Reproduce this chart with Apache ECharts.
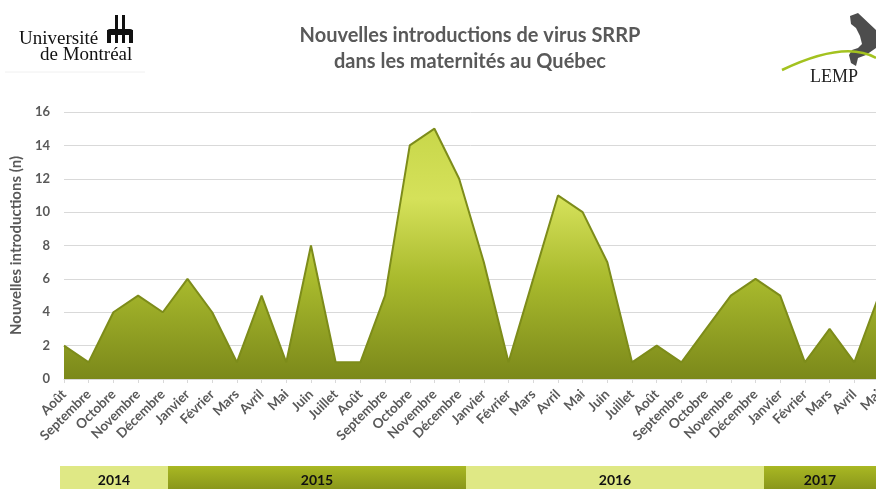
<!DOCTYPE html>
<html>
<head>
<meta charset="utf-8">
<script src="https://cdn.jsdelivr.net/npm/echarts@6/dist/echarts.min.js"></script>
<style>
  html, body { margin: 0; padding: 0; background: #fff; }
  #chart { width: 876px; height: 489px; }
</style>
</head>
<body>
<div id="chart"></div>
<script>
// mois (août 2014 -> mai 2017)
const months = [
  'Août', 'Septembre', 'Octobre', 'Novembre', 'Décembre',
  'Janvier', 'Février', 'Mars', 'Avril', 'Mai', 'Juin', 'Juillet', 'Août', 'Septembre', 'Octobre', 'Novembre', 'Décembre',
  'Janvier', 'Février', 'Mars', 'Avril', 'Mai', 'Juin', 'Juillet', 'Août', 'Septembre', 'Octobre', 'Novembre', 'Décembre',
  'Janvier', 'Février', 'Mars', 'Avril', 'Mai'
];
// nouvelles introductions par mois
const introductions = [
  2, 1, 4, 5, 4,
  6, 4, 1, 5, 1, 8, 1, 1, 5, 14, 15, 12,
  7, 1, 6, 11, 10, 7, 1, 2, 1, 3, 5, 6,
  5, 1, 3, 1, 5
];
const years = ['2014', '2015', '2016', '2017'];
const yTicks = [0, 2, 4, 6, 8, 10, 12, 14, 16];

const FONT = 'Lato';
const GREY = '#595959';

const chart = echarts.init(document.getElementById('chart'));

// bandeau des années (bords en pixels)
const yearEdges = [60, 168, 466, 764, 876];
const yearLight = [true, false, true, false];
const darkBand = new echarts.graphic.LinearGradient(0, 0, 0, 1, [
  {offset: 0, color: '#a9b823'},
  {offset: 1, color: '#8a971b'}
]);
const yearGraphics = [];
years.forEach((y, i) => {
  yearGraphics.push({
    type: 'rect',
    shape: {x: yearEdges[i], y: 466, width: yearEdges[i + 1] - yearEdges[i], height: 23},
    style: {fill: yearLight[i] ? '#dfe885' : darkBand}
  });
  yearGraphics.push({
    type: 'text',
    x: (yearEdges[i] + yearEdges[i + 1]) / 2,
    y: 480,
    style: {text: y, font: 'bold 14px ' + FONT, fill: '#111', align: 'center', verticalAlign: 'middle'}
  });
});

// logos
const blk = {fill: '#111'};
const logoGraphics = [
  {type: 'text', x: 19, y: 30, style: {text: 'Université', font: '19px "Liberation Serif"', fill: '#111', verticalAlign: 'top'}},
  {type: 'text', x: 40, y: 46, style: {text: 'de Montréal', font: '19px "Liberation Serif"', fill: '#111', verticalAlign: 'top'}},
  // emblème
  {type: 'rect', shape: {x: 115, y: 15, width: 3, height: 18}, style: blk},
  {type: 'rect', shape: {x: 122, y: 15, width: 3, height: 18}, style: blk},
  {type: 'rect', shape: {x: 107, y: 29, width: 26, height: 6, r: 3}, style: blk},
  {type: 'rect', shape: {x: 107, y: 30, width: 4, height: 13}, style: blk},
  {type: 'rect', shape: {x: 115, y: 32, width: 3, height: 11}, style: blk},
  {type: 'rect', shape: {x: 122, y: 32, width: 3, height: 11}, style: blk},
  {type: 'rect', shape: {x: 129, y: 30, width: 4, height: 13}, style: blk},
  {type: 'line', shape: {x1: 5, y1: 72, x2: 145, y2: 72}, style: {stroke: '#f0f0f0', lineWidth: 1}},
  // LEMP
  {type: 'polygon', shape: {points: [[850, 16], [858, 13], [876, 30], [876, 48], [866, 55], [858, 58], [856, 66], [851, 63], [849, 55], [852, 50], [858, 48], [862, 44], [860, 36], [856, 28], [851, 24]]}, style: {fill: '#4d4d4d'}},
  {type: 'bezierCurve', shape: {x1: 782, y1: 70, cpx1: 845, cpy1: 40, x2: 876, y2: 58}, style: {stroke: '#a3c21f', lineWidth: 2.5, fill: null}},
  {type: 'text', x: 810, y: 68, style: {text: 'LEMP', font: '18px "Liberation Serif"', fill: '#222', verticalAlign: 'top'}}
];

const option = {
  animation: false,
  backgroundColor: '#fff',
  title: {
    text: 'Nouvelles introductions de virus SRRP\ndans les maternités au Québec',
    left: 465,
    top: 18,
    textAlign: 'center',
    textStyle: {fontFamily: FONT, fontWeight: 'bold', fontSize: 20, color: GREY, lineHeight: 26}
  },
  grid: {left: 64, right: -3, top: 112, bottom: 110, containLabel: false, outerBoundsMode: 'none'},
  xAxis: {
    type: 'category',
    data: months,
    boundaryGap: false,
    axisLine: {lineStyle: {color: '#d9d9d9'}},
    axisTick: {show: true, length: 4, lineStyle: {color: '#d9d9d9'}},
    axisLabel: {
      rotate: 45,
      interval: 0,
      margin: 13,
      fontFamily: FONT,
      fontWeight: 'bold',
      fontSize: 13.5,
      color: GREY
    },
    splitLine: {show: false}
  },
  yAxis: {
    type: 'value',
    min: yTicks[0],
    max: yTicks[yTicks.length - 1],
    interval: 2,
    name: 'Nouvelles introductions (n)',
    nameLocation: 'middle',
    nameGap: 38,
    nameTextStyle: {fontFamily: FONT, fontWeight: 'bold', fontSize: 15, color: GREY},
    axisLine: {show: false},
    axisTick: {show: false},
    axisLabel: {margin: 14, fontFamily: FONT, fontWeight: 'bold', fontSize: 13, color: GREY},
    splitLine: {lineStyle: {color: '#d9d9d9', width: 1}}
  },
  series: [{
    type: 'line',
    data: introductions,
    symbol: 'none',
    lineStyle: {color: '#7d8c1a', width: 2},
    areaStyle: {
      opacity: 1,
      color: new echarts.graphic.LinearGradient(0, 0, 0, 1, [
        {offset: 0, color: '#c8d74a'},
        {offset: 0.28, color: '#d5e15a'},
        {offset: 0.6, color: '#a9ba2d'},
        {offset: 1, color: '#7b881a'}
      ])
    }
  }],
  graphic: yearGraphics.concat(logoGraphics)
};

chart.setOption(option);
</script>
</body>
</html>
